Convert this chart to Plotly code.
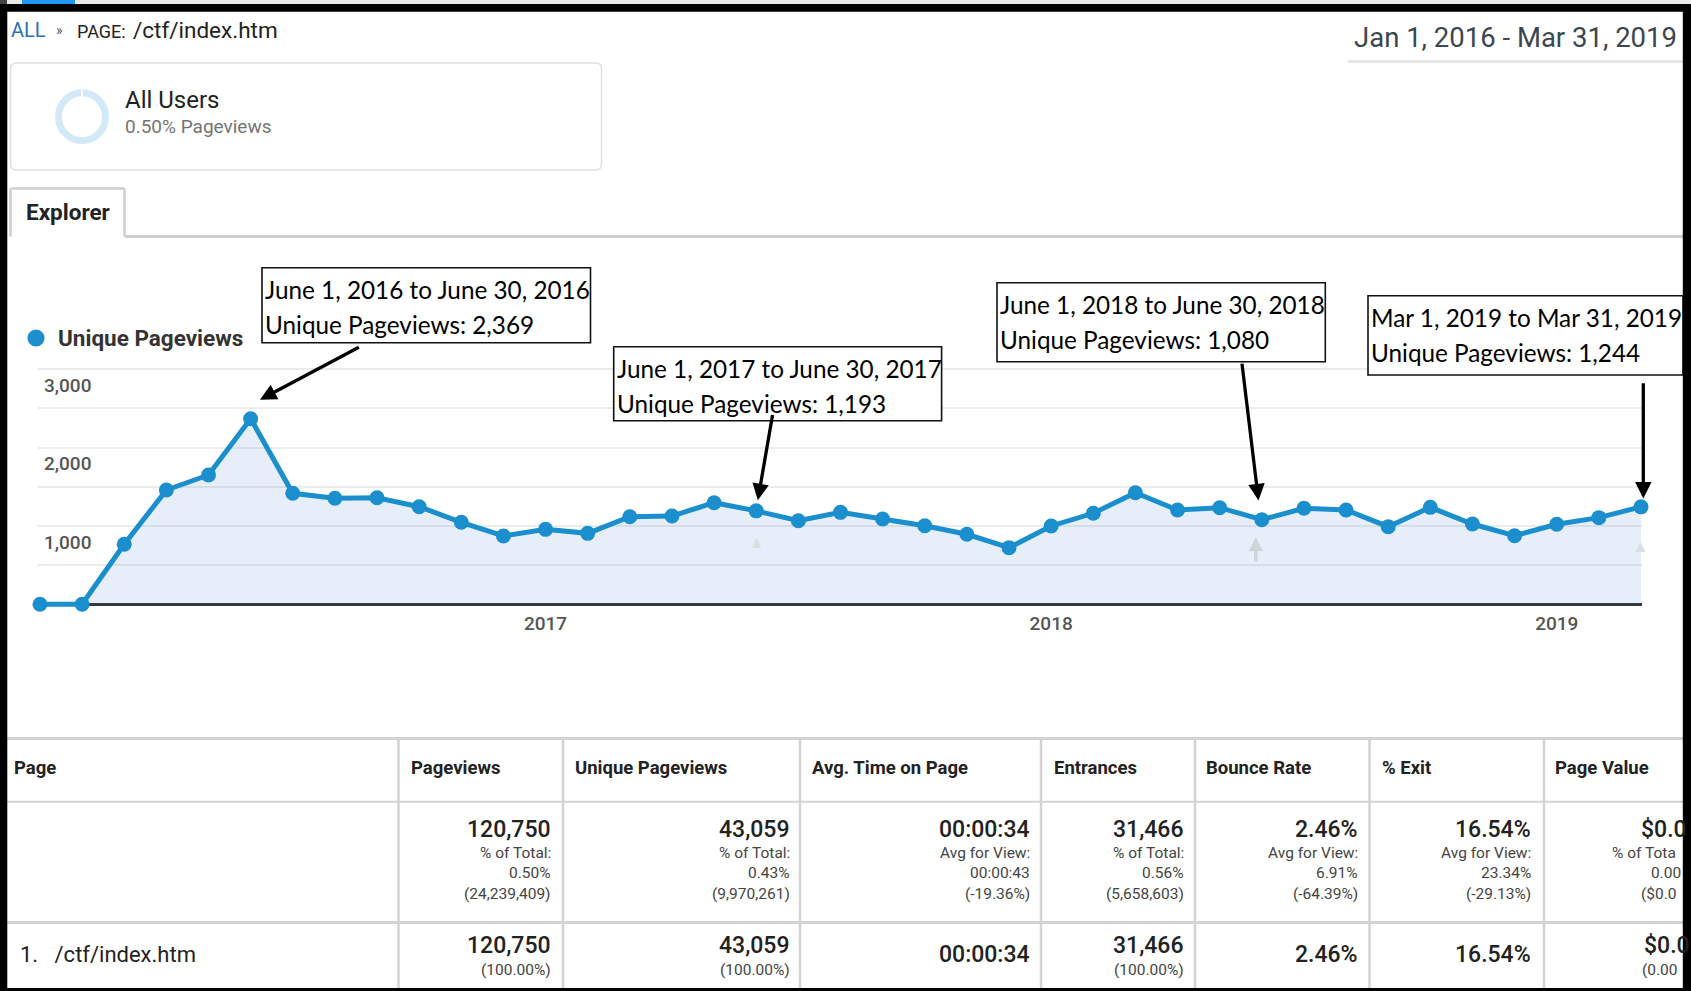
import pandas as pd
import plotly.graph_objects as go

# ---------------- data ----------------
months = pd.date_range("2016-01-01", "2019-03-01", freq="MS").strftime("%b %Y").tolist()
unique_pageviews = [0, 0, 766, 1459, 1651, 2369, 1417, 1353, 1361, 1246, 1047, 872,
                    957, 906, 1118, 1127, 1297, 1193, 1067, 1174, 1089, 1003, 894, 723,
                    1000, 1162, 1425, 1204, 1233, 1080, 1226, 1204, 991, 1238, 1025, 876,
                    1021, 1106, 1244]
x_tick_vals = ["Jan 2016", "Jan 2017", "Jan 2018", "Jan 2019"]
x_tick_text = ["...", "2017", "2018", "2019"]
y_tick_vals = [0, 500, 1000, 1500, 2000, 2500, 3000]
y_tick_text = ["", "", "1,000", "", "2,000", "", "3,000"]

callout_idx = [5, 17, 29, 38]
callout_line1 = ["June 1, 2016 to June 30, 2016", "June 1, 2017 to June 30, 2017",
                 "June 1, 2018 to June 30, 2018", "Mar 1, 2019 to Mar 31, 2019"]
callout_line2 = ["Unique Pageviews: 2,369", "Unique Pageviews: 1,193",
                 "Unique Pageviews: 1,080", "Unique Pageviews: 1,244"]

table_headers = ["Page", "Pageviews", "Unique Pageviews", "Avg. Time on Page", "Entrances",
                 "Bounce Rate", "% Exit", "Page Value"]
total_main = ["120,750", "43,059", "00:00:34", "31,466", "2.46%", "16.54%"]
total_sub = [["% of Total:", "0.50%", "(24,239,409)"],
             ["% of Total:", "0.43%", "(9,970,261)"],
             ["Avg for View:", "00:00:43", "(-19.36%)"],
             ["% of Total:", "0.56%", "(5,658,603)"],
             ["Avg for View:", "6.91%", "(-64.39%)"],
             ["Avg for View:", "23.34%", "(-29.13%)"]]
row1_label = "1.   /ctf/index.htm"
row1_main = ["120,750", "43,059", "00:00:34", "31,466", "2.46%", "16.54%"]
row1_sub = ["(100.00%)", "(100.00%)", "", "(100.00%)", "", ""]
# Page Value column as visible (cut by the frame in the screenshot)
page_value_total = ["$0.0", "% of Tota", "0.00", "($0.0"]
page_value_row1 = ["$0.0", "(0.00"]

# ---------------- layout helpers (pixel -> paper) ----------------
W, H = 1691, 991
BLUE = "#1b8fcd"


def X(px):
    return px / W


def Y(py):
    return 1 - py / H


shapes = []
annotations = []


def rect(x0, y0, x1, y1, fill=None, line_color=None, line_width=0, layer="above"):
    shapes.append(dict(type="rect", xref="paper", yref="paper",
                       x0=X(x0), x1=X(x1), y0=Y(y1), y1=Y(y0),
                       fillcolor=fill if fill else "rgba(0,0,0,0)",
                       line=dict(color=line_color if line_color else "rgba(0,0,0,0)", width=line_width),
                       layer=layer))


def line(x0, y0, x1, y1, color, width, layer="above"):
    shapes.append(dict(type="line", xref="paper", yref="paper",
                       x0=X(x0), x1=X(x1), y0=Y(y0), y1=Y(y1),
                       line=dict(color=color, width=width), layer=layer))


def txt(s, x, y, size, color="#222", anchor="left", family="Roboto", weight="normal"):
    annotations.append(dict(text=s, x=X(x), y=Y(y), xref="paper", yref="paper",
                            xanchor=anchor, yanchor="middle", showarrow=False, borderpad=0,
                            font=dict(family=family, size=size, color=color, weight=weight)))


# ---------------- chart ----------------
fig = go.Figure()
fig.add_trace(go.Scatter(
    x=months, y=unique_pageviews, mode="lines+markers",
    line=dict(color=BLUE, width=5), marker=dict(size=15, color=BLUE),
    fill="tozeroy", fillcolor="rgba(5,100,200,0.1)", cliponaxis=False,
    hoverinfo="skip", showlegend=False))

# ---------------- header area ----------------
rect(0, 0, W, 4, fill="#e9e9e9", layer="below")
rect(0, 0, 7, 4, fill="#444444", layer="below")
rect(22, 0, 75, 4, fill="#2196f3", layer="below")

txt("ALL", 10, 30, 20, color="#2a6ebb")
txt("»", 55, 30, 14, color="#555")
txt("PAGE:", 76, 31, 18, color="#222")
txt("/ctf/index.htm", 132, 30, 22.5, color="#222")

txt("Jan 1, 2016 - Mar 31, 2019", 1678, 38, 27.5, color="#3c4650", anchor="right")
line(1348, 61.5, 1683, 61.5, "#e6e6e6", 3, layer="below")

# card
x0, y0, x1, y1, r = 10.5, 63, 601.5, 170, 6
path = (f"M {X(x0 + r)},{Y(y0)} L {X(x1 - r)},{Y(y0)} Q {X(x1)},{Y(y0)} {X(x1)},{Y(y0 + r)} "
        f"L {X(x1)},{Y(y1 - r)} Q {X(x1)},{Y(y1)} {X(x1 - r)},{Y(y1)} "
        f"L {X(x0 + r)},{Y(y1)} Q {X(x0)},{Y(y1)} {X(x0)},{Y(y1 - r)} "
        f"L {X(x0)},{Y(y0 + r)} Q {X(x0)},{Y(y0)} {X(x0 + r)},{Y(y0)} Z")
shapes.append(dict(type="path", xref="paper", yref="paper", path=path,
                   line=dict(color="#e0e0e0", width=1.5), fillcolor="white", layer="below"))
shapes.append(dict(type="circle", xref="paper", yref="paper",
                   x0=X(82 - 23.5), x1=X(82 + 23.5), y0=Y(116.7 + 24), y1=Y(116.7 - 24),
                   line=dict(color="#d3e9f8", width=7), layer="below"))
line(82, 89, 82, 96, "white", 1.5, layer="below")
txt("All Users", 124, 100, 24, color="#222")
txt("0.50% Pageviews", 124, 127, 19, color="#757575")

# explorer tab
line(10.5, 236.5, 10.5, 188.5, "#cfcfcf", 2.5, layer="below")
line(10.5, 188.5, 124.5, 188.5, "#cfcfcf", 2.5, layer="below")
line(124.5, 188.5, 124.5, 236.5, "#cfcfcf", 2.5, layer="below")
line(124.5, 236.5, 1683, 236.5, "#cfcfcf", 3, layer="below")
txt("<b>Explorer</b>", 25, 212, 22.5, color="#222")

# legend
shapes.append(dict(type="circle", xref="paper", yref="paper",
                   x0=X(36 - 8.6), x1=X(36 + 8.6), y0=Y(338 + 8.6), y1=Y(338 - 8.6),
                   fillcolor=BLUE, line=dict(width=0), layer="below"))
txt("<b>Unique Pageviews</b>", 57, 338, 22.5, color="#333")

# faint GA annotation markers
for idx, yv in [(17, 790), (38, 750)]:
    annotations.append(dict(x=months[idx], y=yv, xref="x", yref="y", text="▲", showarrow=False,
                            font=dict(size=17, color="#dcdfe3")))
annotations.append(dict(x=months[29], y=860, xref="x", yref="y", text="", showarrow=True,
                        ax=0, ay=26, arrowhead=2, arrowsize=0.8, arrowwidth=3.5,
                        arrowcolor="#cfd4da", xshift=-6))

# callout boxes
boxes = [(262, 267.7, 590.5, 342.7), (613.7, 346.7, 941.6, 420.7),
         (997, 282.7, 1325.3, 361.7), (1368, 295.7, 1683, 375)]
for (bx0, by0, bx1, by1), l1, l2 in zip(boxes, callout_line1, callout_line2):
    rect(bx0, by0, bx1, by1, fill="white", line_color="#111", line_width=1.6, layer="above")
    txt(l1, bx0 + 2, by0 + 22, 24.3, color="#000", family="Lato")
    txt(l2, bx0 + 2, by0 + 57, 24.3, color="#000", family="Lato")

# callout arrows (anchored at data points)
arrow_geo = [(9.3, 19, 100.4, -53.3), (1.6, 10.7, 15, -86.7),
             (-3.3, 19.3, -16.7, -138.3), (2.3, 8.4, 0, -116.6)]
for idx, (xs, ys, axp, ayp) in zip(callout_idx, arrow_geo):
    annotations.append(dict(x=months[idx], y=unique_pageviews[idx], xref="x", yref="y",
                            xshift=xs, yshift=ys, ax=axp, ay=ayp, text="", showarrow=True,
                            arrowhead=2, arrowsize=1.0, arrowwidth=3.3, arrowcolor="#000",
                            standoff=0))

# ---------------- table ----------------
GRID = "#d3d3d3"
line(7, 738.5, 1683, 738.5, GRID, 3, layer="below")
line(7, 801.7, 1683, 801.7, GRID, 2, layer="below")
line(7, 922.5, 1683, 922.5, GRID, 3, layer="below")
col_div = [398.5, 563, 800, 1041, 1195, 1369.5, 1544]
for cx in col_div:
    line(cx, 738.5, cx, 989, GRID, 2.5, layer="below")

header_x = [13, 410, 574, 811, 1053, 1205, 1381, 1554]
for hx, h in zip(header_x, table_headers):
    txt(h, hx, 768, 18.5, color="#222", weight="bold")

right_edges = [552, 790.5, 1031, 1185, 1359, 1532]
for i, rx in enumerate(right_edges):
    txt(total_main[i], rx, 829, 23, color="#222", anchor="right", weight=500)
    for j, sy in enumerate([853, 872.5, 894]):
        txt(total_sub[i][j], rx, sy, 15.5, color="#444", anchor="right")
    if row1_sub[i]:
        txt(row1_main[i], rx, 945.5, 23, color="#222", anchor="right", weight=500)
        txt(row1_sub[i], rx, 969.5, 15.5, color="#444", anchor="right")
    else:
        txt(row1_main[i], rx, 954.5, 23, color="#222", anchor="right", weight=500)

# page value column (as visible, cut by the frame)
txt(page_value_total[0], 1640, 829, 23, color="#222", weight=500)
txt(page_value_total[1], 1611, 853, 15.5, color="#444")
txt(page_value_total[2], 1650, 872.5, 15.5, color="#444")
txt(page_value_total[3], 1640, 894, 15.5, color="#444")
txt(page_value_row1[0], 1643, 945.5, 23, color="#222", weight=500)
txt(page_value_row1[1], 1641, 969.5, 15.5, color="#444")

txt(row1_label, 19, 954.5, 22, color="#222")

# ---------------- black frame ----------------
rect(0, 4, 7.3, H, fill="black")
rect(0, 4, W, 11.7, fill="black")
rect(1682.8, 4, W, H, fill="black")
rect(0, 988, W, H, fill="black")

fig.update_layout(
    width=W, height=H, autosize=False,
    margin=dict(l=0, r=0, t=0, b=0, pad=0),
    paper_bgcolor="white", plot_bgcolor="rgba(0,0,0,0)",
    showlegend=False,
    shapes=shapes, annotations=annotations,
    font=dict(family="Roboto"),
    xaxis=dict(type="category", categoryorder="array", categoryarray=months,
               domain=[X(38), X(1642)], range=[-0.047, 38.024], automargin=False,
               showgrid=False, zeroline=False, showline=False, ticks="",
               tickvals=x_tick_vals, ticktext=x_tick_text,
               tickfont=dict(family="Roboto", size=19, color="#555", weight=500)),
    yaxis=dict(domain=[Y(610), Y(355)], range=[-72.8, 3182.7], automargin=False,
               tickvals=y_tick_vals, ticktext=y_tick_text,
               ticklabelposition="inside", ticklabelshift=16, ticklabelstandoff=3,
               ticks="", showgrid=True, gridcolor="#ececec", gridwidth=2,
               zeroline=True, zerolinecolor="#3a3a3a", zerolinewidth=2.5, showline=False,
               tickfont=dict(family="Roboto", size=19, color="#555", weight=500)),
)

fig.write_html("out.html", config={"displayModeBar": False},
               post_script="document.body.style.margin='0';document.body.style.overflow='hidden';")
